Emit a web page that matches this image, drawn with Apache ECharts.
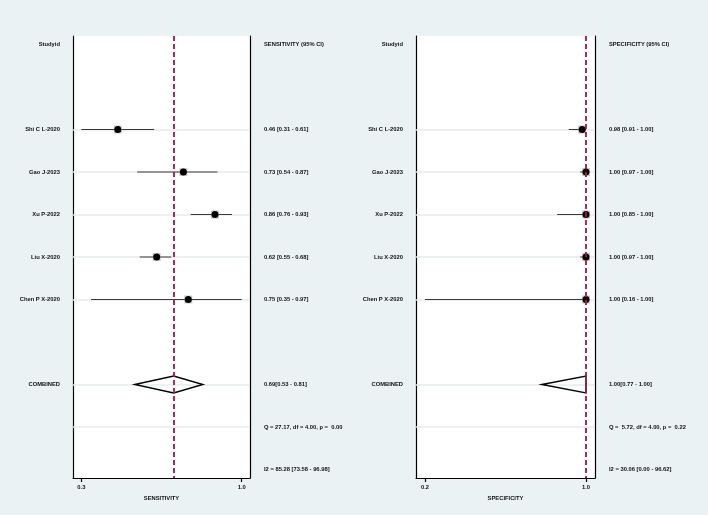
<!DOCTYPE html>
<html>
<head>
<meta charset="utf-8">
<script src="https://cdn.jsdelivr.net/npm/echarts@6/dist/echarts.min.js"></script>
<style>
html,body{margin:0;padding:0;background:#eaf2f3;}
#c{width:708px;height:515px;}
</style>
</head>
<body>
<div id="c"></div>
<script>
// ---- data ----
const studies = ['Shi C L-2020', 'Gao J-2023', 'Xu P-2022', 'Liu X-2020', 'Chen P X-2020'];
const studyRows = [2, 3, 4, 5, 6];
const headerRow = 0, combinedRow = 8, qRow = 9, i2Row = 10;

const sensEst = [0.46, 0.73, 0.86, 0.62, 0.75];
const sensLo  = [0.31, 0.54, 0.76, 0.55, 0.35];
const sensHi  = [0.61, 0.87, 0.93, 0.68, 0.97];
const sensPooled = [0.69, 0.53, 0.81];
const sensQ = 'Q = 27.17, df = 4.00, p =  0.00';
const sensI2 = 'I2 = 85.28 [73.58 - 96.98]';
const sensTicks = [0.31, 0.97];

const specEst = [0.98, 1.00, 1.00, 1.00, 1.00];
const specLo  = [0.91, 0.97, 0.85, 0.97, 0.16];
const specHi  = [1.00, 1.00, 1.00, 1.00, 1.00];
const specPooled = [1.00, 0.77, 1.00];
const specQ = 'Q =  5.72, df = 4.00, p =  0.22';
const specI2 = 'I2 = 30.06 [0.00 - 96.62]';
const specTicks = [0.16, 1.00];

// ---- helpers ----
const FONT = 'Liberation Sans, Arial, Helvetica, sans-serif';
const FS = 5.8, FW = 'bold', TC = '#111';
const f2 = v => v.toFixed(2);
function rightLabels(est, lo, hi, pooled, q, i2, title) {
  const m = {};
  m[headerRow] = title;
  studyRows.forEach((r, i) => { m[r] = f2(est[i]) + ' [' + f2(lo[i]) + ' - ' + f2(hi[i]) + ']'; });
  m[combinedRow] = f2(pooled[0]) + '[' + f2(pooled[1]) + ' - ' + f2(pooled[2]) + ']';
  m[qRow] = q;
  m[i2Row] = i2;
  return m;
}
const leftMap = {};
leftMap[headerRow] = 'Studyid';
studyRows.forEach((r, i) => leftMap[r] = studies[i]);
leftMap[combinedRow] = 'COMBINED';

const sensRight = rightLabels(sensEst, sensLo, sensHi, sensPooled, sensQ, sensI2, 'SENSITIVITY (95% CI)');
const specRight = rightLabels(specEst, specLo, specHi, specPooled, specQ, specI2, 'SPECIFICITY (95% CI)');
const leftRows = Object.keys(leftMap).map(Number);
const allRows = Object.keys(sensRight).map(Number);

const yMin = -0.2, yMax = 10.2;
function yAxes(gi, rmap) {
  const common = {
    type: 'value', gridIndex: gi, min: yMin, max: yMax, inverse: true,
    splitLine: { show: false }, axisTick: { show: false },
    axisLine: { show: true, onZero: false, lineStyle: { color: '#000', width: 1.2 } }
  };
  return [
    Object.assign({}, common, { position: 'left',
      axisLabel: { customValues: leftRows, margin: 13, fontSize: FS, fontWeight: FW, color: TC, fontFamily: FONT,
        formatter: v => leftMap[v] || '' } }),
    Object.assign({}, common, { position: 'right',
      axisLabel: { customValues: allRows, margin: 14, fontSize: FS, fontWeight: FW, color: TC, fontFamily: FONT, align: 'left',
        formatter: v => rmap[v] || '' } })
  ];
}
function xAxis(gi, min, max, ticks, name) {
  return {
    type: 'value', gridIndex: gi, min: min, max: max,
    splitLine: { show: false },
    axisLine: { show: true, onZero: false, lineStyle: { color: '#000', width: 1.2 } },
    axisTick: { show: true, customValues: ticks, length: 4, lineStyle: { color: '#000', width: 1.2 } },
    axisLabel: { customValues: ticks, margin: 6, fontSize: FS, fontWeight: FW, color: TC, fontFamily: FONT,
      formatter: v => v.toFixed(1) },
    name: name, nameLocation: 'middle', nameGap: 16,
    nameTextStyle: { fontSize: FS, fontWeight: FW, color: TC, fontFamily: FONT }
  };
}

function studySeries(gi, est, lo, hi) {
  const data = studyRows.map((r, i) => [r, est[i], lo[i], hi[i]]);
  return {
    type: 'custom', xAxisIndex: gi, yAxisIndex: gi * 2, z: 5, silent: true,
    data: data,
    renderItem: (params, api) => {
      const r = api.value(0);
      const pE = api.coord([api.value(1), r]);
      const pL = api.coord([api.value(2), r]);
      const pH = api.coord([api.value(3), r]);
      return { type: 'group', children: [
        { type: 'line', shape: { x1: pL[0], y1: pL[1], x2: pH[0], y2: pH[1] },
          style: { stroke: '#3a3a3a', lineWidth: 1 } },
        { type: 'rect', shape: { x: pE[0] - 4, y: pE[1] - 4, width: 8, height: 8 },
          style: { fill: '#9a9a9a', opacity: 0.5 } },
        { type: 'circle', shape: { cx: pE[0], cy: pE[1], r: 3.5 }, style: { fill: '#000' } }
      ]};
    }
  };
}
function pooledSeries(gi, pooled, vline) {
  return {
    type: 'custom', xAxisIndex: gi, yAxisIndex: gi * 2, z: 6, silent: true,
    data: [[combinedRow, pooled[0], pooled[1], pooled[2]]],
    renderItem: (params, api) => {
      const r = api.value(0), h = 0.2;
      const pts = [
        api.coord([api.value(2), r]),
        api.coord([api.value(1), r - h]),
        api.coord([api.value(3), r]),
        api.coord([api.value(1), r + h])
      ];
      return { type: 'polygon', shape: { points: pts },
        style: { fill: 'none', stroke: '#000', lineWidth: 1.4 } };
    },
    markLine: {
      silent: true, symbol: 'none', label: { show: false }, z: 7,
      lineStyle: { color: '#b0123c', width: 1.8, type: [5, 3] },
      data: [{ xAxis: vline }]
    }
  };
}
function gridLineSeries(gi) {
  const rows = studyRows.concat([combinedRow, qRow]);
  return {
    type: 'scatter', xAxisIndex: gi, yAxisIndex: gi * 2, data: [], z: 1, silent: true,
    markLine: {
      silent: true, symbol: 'none', label: { show: false },
      lineStyle: { color: '#e5edef', width: 1.5, type: 'solid' },
      data: rows.map(r => ({ yAxis: r }))
    }
  };
}

const chart = echarts.init(document.getElementById('c'), null, { renderer: 'canvas' });
chart.setOption({
  backgroundColor: '#eaf2f3',
  animation: false,
  grid: [
    { left: 73, top: 36, width: 177, height: 442, show: true, backgroundColor: '#fff', borderWidth: 0, outerBoundsMode: 'none' },
    { left: 416, top: 36, width: 179, height: 442, show: true, backgroundColor: '#fff', borderWidth: 0, outerBoundsMode: 'none' }
  ],
  xAxis: [
    xAxis(0, 0.2757, 1.0041, sensTicks, 'SENSITIVITY'),
    xAxis(1, 0.1132, 1.047, specTicks, 'SPECIFICITY')
  ],
  yAxis: yAxes(0, sensRight).concat(yAxes(1, specRight)),
  series: [
    gridLineSeries(0), gridLineSeries(1),
    studySeries(0, sensEst, sensLo, sensHi),
    studySeries(1, specEst, specLo, specHi),
    pooledSeries(0, sensPooled, sensPooled[0]),
    pooledSeries(1, specPooled, specPooled[0])
  ]
});
</script>
</body>
</html>
